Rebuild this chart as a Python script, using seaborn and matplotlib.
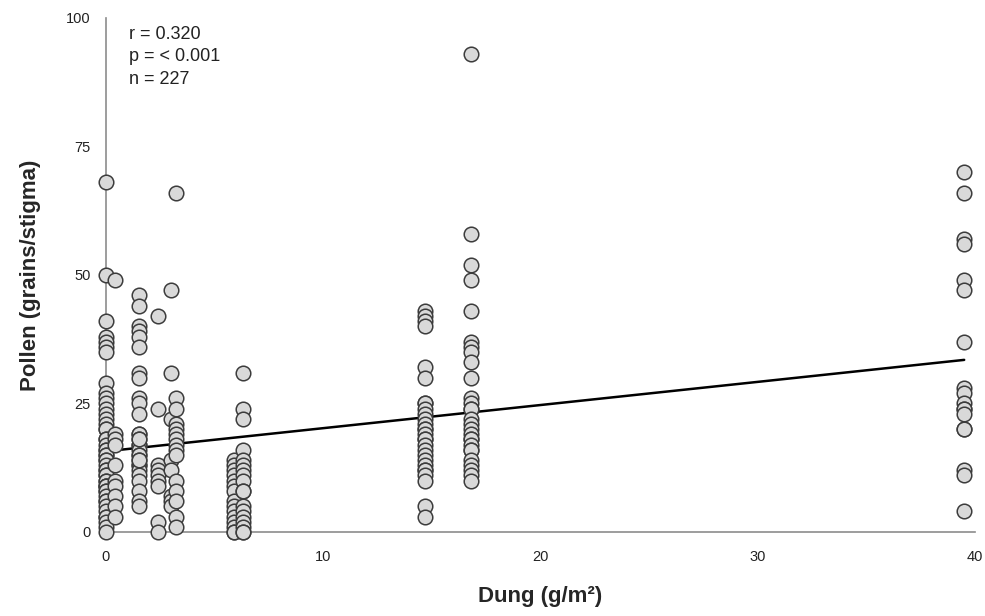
import numpy as np
import pandas as pd
import matplotlib.pyplot as plt
import seaborn as sns

# dung level (g/m2) of each plot group and the pollen loads counted there
dung_levels = [0.0, 0.4, 1.5, 2.4, 3.0, 3.2, 5.9, 6.3, 14.7, 16.8, 39.5]
pollen_0_0 = [68, 50, 41, 38, 37, 36, 35, 29, 27, 26, 25, 24, 23, 22, 21, 20, 20, 18, 18, 17,
              16, 16, 15, 15, 14, 14, 13, 12, 12, 11, 11, 10, 10, 9, 9, 9, 8, 8, 7, 6,
              6, 5, 4, 3, 3, 2, 1, 0]
pollen_0_4 = [49, 19, 18, 17, 13, 10, 9, 7, 5, 3]
pollen_1_5 = [46, 44, 40, 39, 38, 36, 31, 30, 26, 25, 23, 19, 19, 18, 17, 17, 16, 15, 15, 14,
              13, 13, 12, 11, 10, 8, 6, 5, 18, 14]
pollen_2_4 = [42, 24, 13, 12, 11, 10, 9, 2, 0]
pollen_3_0 = [47, 31, 22, 14, 12, 7, 6, 5]
pollen_3_2 = [66, 26, 24, 21, 20, 19, 18, 17, 16, 15, 10, 8, 6, 3, 1]
pollen_5_9 = [14, 13, 12, 11, 10, 9, 8, 6, 5, 4, 3, 2, 1, 0, 0]
pollen_6_3 = [31, 24, 22, 16, 14, 13, 12, 11, 10, 8, 8, 5, 4, 3, 2, 1, 0, 0]
pollen_14_7 = [43, 42, 41, 40, 32, 30, 25, 25, 24, 23, 22, 21, 20, 20, 19, 18, 18, 17, 16, 15,
               14, 13, 12, 12, 11, 10, 5, 3]
pollen_16_8 = [93, 58, 52, 49, 43, 37, 36, 35, 33, 30, 26, 25, 24, 24, 22, 21, 20, 19, 18, 18,
               17, 16, 16, 14, 13, 12, 11, 10]
pollen_39_5 = [70, 66, 57, 56, 49, 47, 37, 28, 27, 25, 24, 24, 23, 20, 20, 12, 11, 4]

groups = [pollen_0_0, pollen_0_4, pollen_1_5, pollen_2_4, pollen_3_0, pollen_3_2,
          pollen_5_9, pollen_6_3, pollen_14_7, pollen_16_8, pollen_39_5]
df = pd.DataFrame({
    'dung': np.concatenate([[d] * len(g) for d, g in zip(dung_levels, groups)]),
    'pollen': np.concatenate(groups),
})

sns.set_style('white')
plt.rcParams['font.family'] = ['Liberation Sans', 'DejaVu Sans']

fig = plt.figure(figsize=(9.85, 6.16), dpi=100)
ax = fig.add_axes([0.1076, 0.1364, 0.8823, 0.8346])

sns.regplot(data=df, x='dung', y='pollen', ci=None, ax=ax,
            scatter_kws=dict(s=110, facecolor='#d9d9d9', edgecolor='#3c3c3c',
                             linewidths=1.1, alpha=1, clip_on=False, zorder=3),
            line_kws=dict(color='black', lw=1.8, zorder=2))

ax.set_xlim(0, 40)
ax.set_ylim(0, 100)
ax.set_xticks([0, 10, 20, 30, 40])
ax.set_yticks([0, 25, 50, 75, 100])
sns.despine(ax=ax)
for s in ['left', 'bottom']:
    ax.spines[s].set_color('#8c8c8c')
    ax.spines[s].set_linewidth(1.2)
ax.tick_params(axis='both', direction='out', length=5, width=1, color='#8c8c8c',
               labelsize=10.5, labelcolor='#222222', pad=6)
ax.tick_params(axis='x', pad=8)

ax.set_xlabel('Dung (g/m²)', fontsize=16, fontweight='bold', labelpad=16)
ax.set_ylabel('Pollen (grains/stigma)', fontsize=16, fontweight='bold', labelpad=18)

ax.text(0.026, 0.985, 'r = 0.320\np = < 0.001\nn = 227', transform=ax.transAxes,
        ha='left', va='top', fontsize=13, color='#222222', linespacing=1.45)

fig.savefig('out.png', dpi=100)
